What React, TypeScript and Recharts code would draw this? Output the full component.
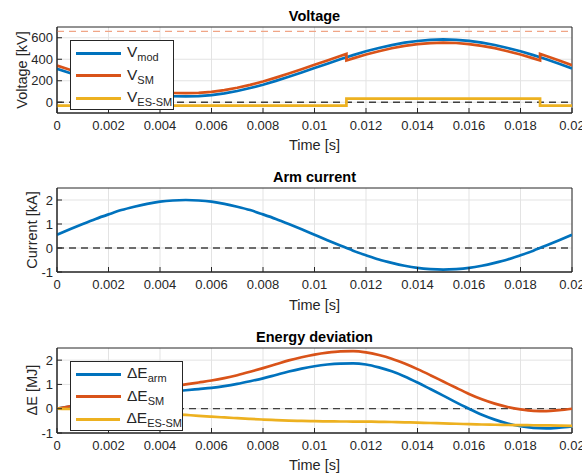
import React from 'react';
import {
  LineChart,
  Line,
  XAxis,
  YAxis,
  CartesianGrid,
  ReferenceLine,
  ReferenceArea,
} from 'recharts';

// time axis for the voltage plot (duplicate points where the ES-SM switches)
const timeV = [
  0, 0.0005, 0.001, 0.0015, 0.002, 0.0025, 0.003, 0.0035, 0.004, 0.0045, 0.005,
  0.0055, 0.006, 0.0065, 0.007, 0.0075, 0.008, 0.0085, 0.009, 0.0095, 0.01,
  0.0105, 0.011, 0.01124, 0.01124, 0.0115, 0.012, 0.0125, 0.013, 0.0135, 0.014,
  0.0145, 0.015, 0.0155, 0.016, 0.0165, 0.017, 0.0175, 0.018, 0.0185, 0.01876,
  0.01876, 0.019, 0.0195, 0.02,
];
const vMod = [
  312, 272, 232, 195, 160, 130, 104, 82, 66, 57, 54, 57, 67, 83, 105, 132, 163,
  199, 237, 277, 318, 359, 400, 419, 419, 438, 474, 505, 532, 554, 570, 580, 584,
  581, 571, 555, 533, 505, 474, 438, 419, 419, 400, 358, 315,
];
const vSm = [
  342, 302, 262, 225, 190, 160, 134, 112, 96, 87, 84, 87, 97, 113, 135, 162,
  193, 229, 267, 307, 348, 389, 430, 449, 389, 408, 444, 475, 502, 524, 540, 550,
  554, 551, 541, 525, 503, 475, 444, 408, 389, 449, 430, 388, 345,
];
const vEsSm = [
  -32, -32, -32, -32, -32, -32, -32, -32, -32, -32, -32, -32, -32, -32, -32, -32,
  -32, -32, -32, -32, -32, -32, -32, -32, 34, 34, 34, 34, 34, 34, 34, 34, 34, 34,
  34, 34, 34, 34, 34, 34, 34, -32, -32, -32, -32,
];

// time axis for current and energy
const time = [
  0, 0.0005, 0.001, 0.0015, 0.002, 0.0025, 0.003, 0.0035, 0.004, 0.0045, 0.005,
  0.0055, 0.006, 0.0065, 0.007, 0.0075, 0.008, 0.0085, 0.009, 0.0095, 0.01,
  0.0105, 0.011, 0.0115, 0.012, 0.0125, 0.013, 0.0135, 0.014, 0.0145, 0.015,
  0.0155, 0.016, 0.0165, 0.017, 0.0175, 0.018, 0.0185, 0.019, 0.0195, 0.02,
];
const iArm = [
  0.55, 0.78, 1.0, 1.21, 1.4, 1.58, 1.72, 1.84, 1.93, 1.98, 2.0, 1.98, 1.93, 1.84,
  1.72, 1.58, 1.4, 1.21, 1.0, 0.78, 0.55, 0.32, 0.1, -0.11, -0.3, -0.48, -0.62,
  -0.74, -0.83, -0.88, -0.9, -0.88, -0.83, -0.74, -0.62, -0.48, -0.3, -0.11, 0.1,
  0.32, 0.55,
];
const eArm = [
  0, 0.09, 0.18, 0.28, 0.38, 0.47, 0.55, 0.61, 0.67, 0.72, 0.76, 0.81, 0.86, 0.93,
  1.02, 1.13, 1.25, 1.39, 1.53, 1.65, 1.75, 1.82, 1.86, 1.87, 1.82, 1.7, 1.54,
  1.33, 1.08, 0.81, 0.54, 0.26, 0.0, -0.25, -0.45, -0.61, -0.72, -0.79, -0.81,
  -0.78, -0.73,
];
const eSm = [
  0, 0.1, 0.21, 0.33, 0.45, 0.56, 0.66, 0.75, 0.84, 0.92, 1.0, 1.08, 1.16, 1.26,
  1.38, 1.52, 1.67, 1.83, 1.99, 2.12, 2.23, 2.31, 2.36, 2.37, 2.32, 2.21, 2.06,
  1.86, 1.63, 1.38, 1.12, 0.86, 0.61, 0.39, 0.21, 0.07, -0.03, -0.09, -0.1, -0.06,
  0,
];
const eEsSm = [
  0, -0.012, -0.027, -0.046, -0.069, -0.095, -0.124, -0.155, -0.188, -0.223,
  -0.257, -0.292, -0.327, -0.36, -0.391, -0.42, -0.446, -0.468, -0.488, -0.503,
  -0.515, -0.523, -0.526, -0.528, -0.532, -0.539, -0.548, -0.56, -0.574, -0.589,
  -0.604, -0.62, -0.635, -0.649, -0.661, -0.67, -0.677, -0.681, -0.685, -0.695,
  -0.71,
];

const timeTicks = [0, 0.002, 0.004, 0.006, 0.008, 0.01, 0.012, 0.014, 0.016, 0.018, 0.02];
const voltTicks = [0, 200, 400, 600];
const unitTicks = [-1, 0, 1, 2];

const voltageData = timeV.map((t, i) => ({ t, vMod: vMod[i], vSm: vSm[i], vEsSm: vEsSm[i] }));
const currentData = time.map((t, i) => ({ t, i: iArm[i] }));
const energyData = time.map((t, i) => ({ t, eArm: eArm[i], eSm: eSm[i], eEsSm: eEsSm[i] }));

const BLUE = '#0072BD';
const RED = '#D95319';
const YELLOW = '#EDB120';
const AX = '#262626';
const FONT = '"Liberation Sans", Arial, Helvetica, sans-serif';

const tickStyle = { fontSize: 13, fill: '#262626', fontFamily: FONT };

const W = 582;
const H = 160;
const margin = { top: 28, right: 10, bottom: 18, left: 0 };

function axes(yDomain: number[], yTicks: number[]) {
  return [
    <CartesianGrid key="g" stroke="#e3e3e3" strokeWidth={1} verticalValues={timeTicks} horizontalValues={yTicks} />,
    <XAxis
      key="x"
      dataKey="t"
      type="number"
      domain={[0, 0.02]}
      ticks={timeTicks}
      interval={0}
      height={30}
      tickSize={-5}
      tickMargin={13}
      stroke={AX}
      tick={tickStyle}
      allowDataOverflow
    />,
    <YAxis
      key="y"
      type="number"
      domain={yDomain}
      ticks={yTicks}
      interval={0}
      width={57}
      tickSize={-5}
      tickMargin={9}
      stroke={AX}
      tick={tickStyle}
      allowDataOverflow
    />,
  ];
}

const Title = ({ text, top }: { text: string; top: number }) => (
  <div
    style={{
      position: 'absolute', left: 57, width: 515, top, textAlign: 'center',
      fontWeight: 'bold', fontSize: 14.5, lineHeight: '16px', color: '#000',
    }}
  >
    {text}
  </div>
);

const XLabel = ({ top }: { top: number }) => (
  <div
    style={{
      position: 'absolute', left: 57, width: 515, top, textAlign: 'center',
      fontSize: 14.5, lineHeight: '16px', color: AX,
    }}
  >
    Time [s]
  </div>
);

const YLabel = ({ text, x, y }: { text: string; x: number; y: number }) => (
  <div
    style={{
      position: 'absolute', left: x, top: y, transform: 'translate(-50%, -50%) rotate(-90deg)',
      fontSize: 14.5, lineHeight: '16px', color: AX, whiteSpace: 'nowrap',
    }}
  >
    {text}
  </div>
);

const LegendBox = ({
  left, top, width, items,
}: {
  left: number; top: number; width: number; items: { color: string; main: string; sub: string }[];
}) => (
  <div
    style={{
      position: 'absolute', left, top, width, height: 70, background: '#fff',
      border: `1px solid ${AX}`, boxSizing: 'border-box', paddingTop: 1,
    }}
  >
    {items.map((it) => (
      <div key={it.sub} style={{ height: 22.5, display: 'flex', alignItems: 'center' }}>
        <div style={{ width: 45, height: 3, background: it.color, marginLeft: 5, marginRight: 6 }} />
        <span style={{ fontSize: 15.5, color: AX, whiteSpace: 'nowrap', lineHeight: '16px' }}>
          {it.main}
          <sub style={{ fontSize: 11, verticalAlign: '-4px', lineHeight: '10px' }}>{it.sub}</sub>
        </span>
      </div>
    ))}
  </div>
);

export default function App() {
  return (
    <div
      style={{
        position: 'absolute', left: 0, top: 0, width: W, height: 473, background: '#fff',
        fontFamily: FONT, overflow: 'hidden',
      }}
    >
      {/* Voltage */}
      <div style={{ position: 'absolute', left: 0, top: 0 }}>
        <LineChart width={W} height={H} data={voltageData} margin={{ ...margin, top: 27, bottom: 17 }}>
          {axes([-100, 700], voltTicks)}
          <ReferenceLine y={660} stroke="#F0A586" strokeDasharray="7 5" strokeWidth={1.3} />
          <ReferenceLine y={0} stroke="#404040" strokeDasharray="7 5" strokeWidth={1.3} />
          <Line dataKey="vMod" type="linear" stroke={BLUE} strokeWidth={2.7} dot={false} isAnimationActive={false} />
          <Line dataKey="vSm" type="linear" stroke={RED} strokeWidth={2.7} dot={false} isAnimationActive={false} />
          <Line dataKey="vEsSm" type="linear" stroke={YELLOW} strokeWidth={2.7} dot={false} isAnimationActive={false} />
          <ReferenceArea x1={0} x2={0.02} y1={-100} y2={700} fill="none" stroke={AX} strokeWidth={1} ifOverflow="visible" />
        </LineChart>
      </div>
      <Title text="Voltage" top={8} />
      <XLabel top={137} />
      <YLabel text="Voltage [kV]" x={22} y={70} />
      <LegendBox
        left={70}
        top={40}
        width={104}
        items={[
          { color: BLUE, main: 'V', sub: 'mod' },
          { color: RED, main: 'V', sub: 'SM' },
          { color: YELLOW, main: 'V', sub: 'ES-SM' },
        ]}
      />

      {/* Arm current */}
      <div style={{ position: 'absolute', left: 0, top: 160 }}>
        <LineChart width={W} height={H} data={currentData} margin={margin}>
          {axes([-1, 2.5], unitTicks)}
          <ReferenceLine y={0} stroke="#404040" strokeDasharray="7 5" strokeWidth={1.3} />
          <Line dataKey="i" type="monotone" stroke={BLUE} strokeWidth={2.7} dot={false} isAnimationActive={false} />
          <ReferenceArea x1={0} x2={0.02} y1={-1} y2={2.5} fill="none" stroke={AX} strokeWidth={1} ifOverflow="visible" />
        </LineChart>
      </div>
      <Title text="Arm current" top={169} />
      <XLabel top={297} />
      <YLabel text="Current [kA]" x={32} y={230} />

      {/* Energy deviation */}
      <div style={{ position: 'absolute', left: 0, top: 320 }}>
        <LineChart width={W} height={H} data={energyData} margin={{ ...margin, bottom: 17 }}>
          {axes([-1, 2.5], unitTicks)}
          <ReferenceLine y={0} stroke="#404040" strokeDasharray="7 5" strokeWidth={1.3} />
          <Line dataKey="eArm" type="monotone" stroke={BLUE} strokeWidth={2.7} dot={false} isAnimationActive={false} />
          <Line dataKey="eSm" type="monotone" stroke={RED} strokeWidth={2.7} dot={false} isAnimationActive={false} />
          <Line dataKey="eEsSm" type="monotone" stroke={YELLOW} strokeWidth={2.7} dot={false} isAnimationActive={false} />
          <ReferenceArea x1={0} x2={0.02} y1={-1} y2={2.5} fill="none" stroke={AX} strokeWidth={1} ifOverflow="visible" />
        </LineChart>
      </div>
      <Title text="Energy deviation" top={329} />
      <XLabel top={457} />
      <YLabel text="ΔE [MJ]" x={32} y={390} />
      <LegendBox
        left={70}
        top={361}
        width={113}
        items={[
          { color: BLUE, main: 'ΔE', sub: 'arm' },
          { color: RED, main: 'ΔE', sub: 'SM' },
          { color: YELLOW, main: 'ΔE', sub: 'ES-SM' },
        ]}
      />
    </div>
  );
}
